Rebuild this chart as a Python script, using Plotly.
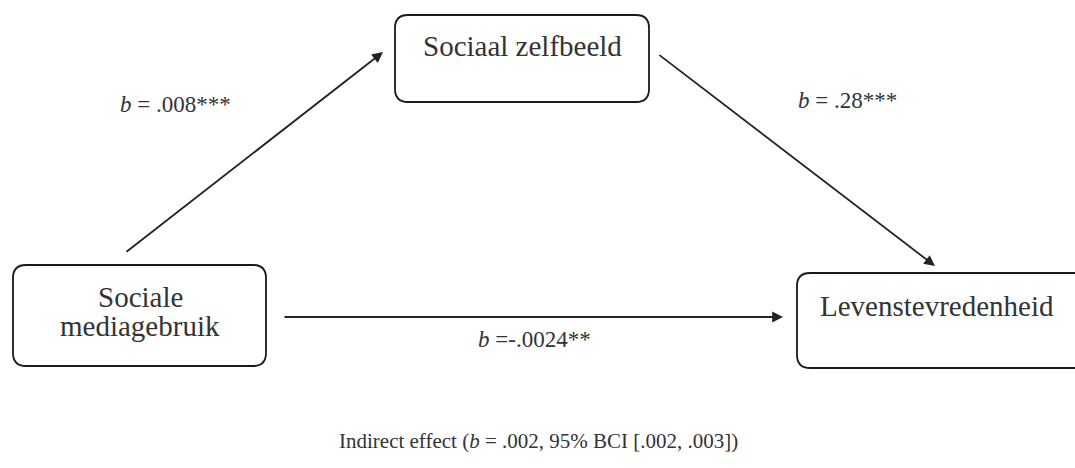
import plotly.graph_objects as go

# Node labels and path coefficients
node_names = ["Sociaal zelfbeeld", "Sociale<br>mediagebruik", "Levenstevredenheid"]
path_labels = ["<i>b</i> = .008***", "<i>b</i> = .28***", "<i>b</i> =-.0024**"]
footer_text = "Indirect effect (<i>b</i> = .002, 95% BCI [.002, .003])"

W, H = 1075, 468
FONT = "Liberation Serif, Times New Roman, serif"
TXT = "#333"

fig = go.Figure()

def rounded_rect(x0, y0, x1, y1, r):
    return (f"M {x0+r},{y0} L {x1-r},{y0} Q {x1},{y0} {x1},{y0+r} "
            f"L {x1},{y1-r} Q {x1},{y1} {x1-r},{y1} L {x0+r},{y1} "
            f"Q {x0},{y1} {x0},{y1-r} L {x0},{y0+r} Q {x0},{y0} {x0+r},{y0} Z")

boxes = [(395, 15, 649, 102), (13, 265, 266, 366), (797, 273, 1100, 368)]
for b in boxes:
    fig.add_shape(type="path", path=rounded_rect(*b, 13), xref="x", yref="y",
                  line=dict(color="#1a1a1a", width=1.8), fillcolor="rgba(0,0,0,0)")

# Node texts
fig.add_annotation(x=522, y=46, text=node_names[0], showarrow=False,
                   font=dict(family=FONT, size=29, color=TXT))
fig.add_annotation(x=140, y=297, text="Sociale", showarrow=False,
                   font=dict(family=FONT, size=29, color=TXT))
fig.add_annotation(x=140, y=326, text="mediagebruik", showarrow=False,
                   font=dict(family=FONT, size=29, color=TXT))
fig.add_annotation(x=937, y=306, text=node_names[2], showarrow=False,
                   font=dict(family=FONT, size=29, color=TXT))

# Arrows (tip x,y ; tail ax,ay)
arrows = [((383, 52), (125, 253)), ((935, 266), (658, 54)), ((783, 317), (283, 317))]
for (tx, ty), (sx, sy) in arrows:
    fig.add_annotation(x=tx, y=ty, ax=sx, ay=sy, xref="x", yref="y", axref="x", ayref="y",
                       showarrow=True, arrowhead=2, arrowsize=1.2, arrowwidth=1.8,
                       arrowcolor="#222", text="")

# Path labels
fig.add_annotation(x=175, y=104, text=path_labels[0], showarrow=False,
                   font=dict(family=FONT, size=23, color=TXT))
fig.add_annotation(x=847, y=100, text=path_labels[1], showarrow=False,
                   font=dict(family=FONT, size=23, color=TXT))
fig.add_annotation(x=534, y=339, text=path_labels[2], showarrow=False,
                   font=dict(family=FONT, size=23, color=TXT))

fig.add_annotation(x=538, y=441, text=footer_text, showarrow=False,
                   font=dict(family=FONT, size=21, color=TXT))

fig.update_xaxes(range=[0, W], visible=False, fixedrange=True)
fig.update_yaxes(range=[H, 0], visible=False, fixedrange=True)
fig.update_layout(width=W, height=H, margin=dict(l=0, r=0, t=0, b=0),
                  paper_bgcolor="white", plot_bgcolor="white", showlegend=False,
                  hovermode=False)

fig.write_html("out.html", config={"displayModeBar": False, "staticPlot": True},
               post_script="document.body.style.margin='0';document.body.style.overflow='hidden';")
